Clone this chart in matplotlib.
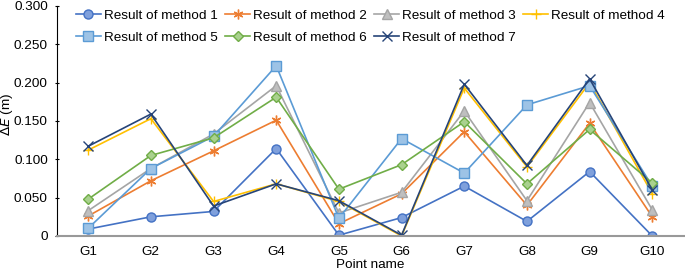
import matplotlib.pyplot as plt
from matplotlib.ticker import FuncFormatter

points = ["G1", "G2", "G3", "G4", "G5", "G6", "G7", "G8", "G9", "G10"]
m1 = [0.009, 0.025, 0.032, 0.114, 0.001, 0.024, 0.065, 0.019, 0.084, 0.000]
m2 = [0.026, 0.072, 0.111, 0.151, 0.016, 0.055, 0.136, 0.040, 0.147, 0.025]
m3 = [0.033, 0.088, 0.133, 0.196, 0.030, 0.057, 0.163, 0.046, 0.174, 0.034]
m4 = [0.112, 0.153, 0.045, 0.068, 0.045, 0.000, 0.193, 0.090, 0.200, 0.055]
m5 = [0.010, 0.088, 0.130, 0.222, 0.023, 0.127, 0.082, 0.171, 0.196, 0.065]
m6 = [0.048, 0.105, 0.128, 0.181, 0.061, 0.093, 0.149, 0.068, 0.139, 0.069]
m7 = [0.117, 0.159, 0.039, 0.068, 0.046, 0.001, 0.198, 0.092, 0.205, 0.060]

plt.rcParams["font.family"] = ["Liberation Sans", "DejaVu Sans"]
FS = 9.7

fig = plt.figure(figsize=(6.85, 2.7), dpi=100)
ax = fig.add_axes([0.083, 0.126, 0.915, 0.852])

x = range(len(points))
styles = [
    (m1, "#4472C4", "#7FA0DC", "o", 6.5),
    (m2, "#ED7D31", "#ED7D31", (6, 2, 0), 7),
    (m3, "#A5A5A5", "#BFBFBF", "^", 6.5),
    (m4, "#FFC000", "#FFC000", "+", 7),
    (m5, "#5B9BD5", "#9DC3E6", "s", 6.5),
    (m6, "#70AD47", "#A9D18E", "D", 5),
    (m7, "#264478", "#264478", "x", 7),
]
handles = []
for i, (vals, col, face, mk, ms) in enumerate(styles):
    h, = ax.plot(x, vals, color=col, lw=1.2, marker=mk, ms=ms,
                 markerfacecolor=face, markeredgecolor=col, markeredgewidth=1.0,
                 label=f"Result of method {i + 1}")
    handles.append(h)

ax.set_xlim(-0.5, 9.5)
ax.set_ylim(0, 0.3)
ax.set_xticks(list(x))
ax.set_xticklabels(points)
ax.set_yticks([0, 0.05, 0.1, 0.15, 0.2, 0.25, 0.3])
ax.yaxis.set_major_formatter(FuncFormatter(lambda v, p: "0" if v == 0 else f"{v:.3f}"))
ax.tick_params(axis="both", labelsize=FS)
ax.tick_params(axis="x", length=0, pad=7)
ax.tick_params(axis="y", length=3, direction="inout", pad=5)

for s in ["top", "right"]:
    ax.spines[s].set_visible(False)
ax.spines["left"].set_color("black")
ax.spines["bottom"].set_color("#999999")
ax.spines["bottom"].set_linewidth(1.5)

ax.set_xlabel("Point name", fontsize=FS, labelpad=1)
ax.set_ylabel(r"$\Delta$$\it{E}$ (m)", fontsize=FS)
ax.yaxis.set_label_coords(-0.067, 0.53)

# row-major legend order for a 4-column, 2-row layout
order = [0, 4, 1, 5, 2, 6, 3]
ax.legend([handles[k] for k in order], [handles[k].get_label() for k in order],
          loc="upper left", bbox_to_anchor=(0.022, 1.008), ncol=4, frameon=False,
          fontsize=FS, handlelength=1.85, columnspacing=0.55, handletextpad=0.22,
          labelspacing=0.7, borderaxespad=0)

fig.savefig("out.png", dpi=100)
